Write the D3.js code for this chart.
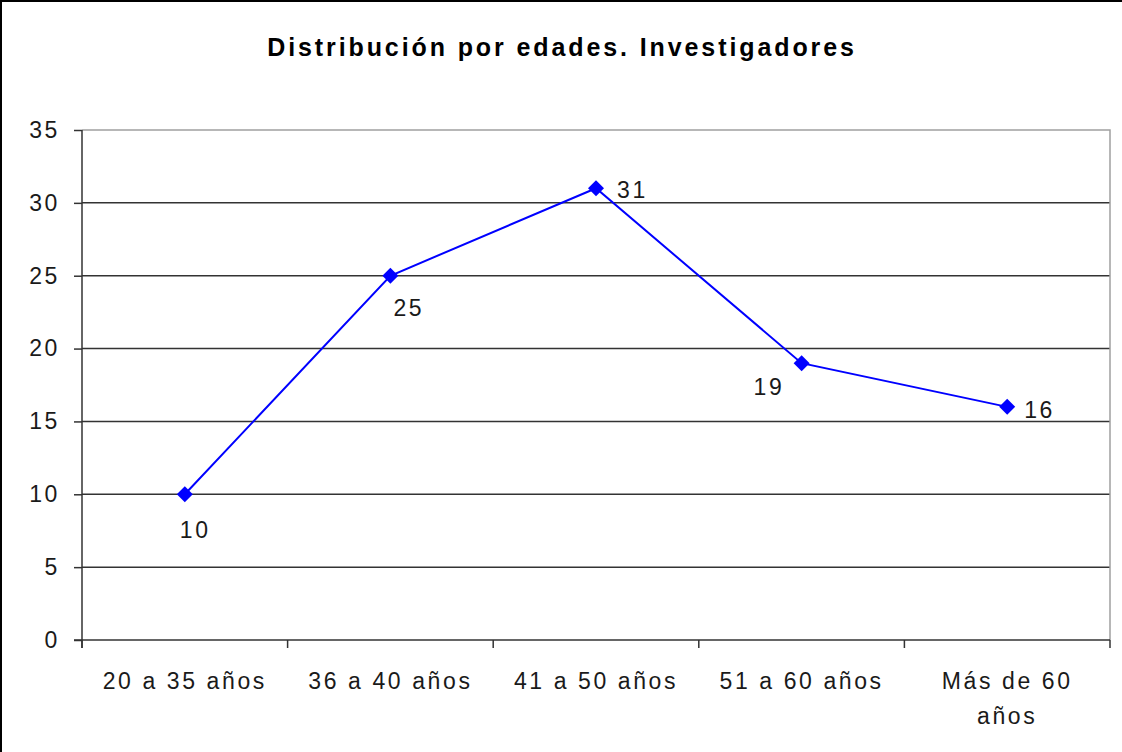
<!DOCTYPE html>
<html>
<head>
<meta charset="utf-8">
<script src="https://cdn.jsdelivr.net/npm/d3@7"></script>
<style>
  body { margin: 0; background: #fff; }
  svg { display: block; }
  text { font-family: "Liberation Sans", Arial, sans-serif; fill: #1a1a1a; }
</style>
</head>
<body>
<div id="chart"></div>
<script>
const categories = ['20 a 35 años', '36 a 40 años', '41 a 50 años', '51 a 60 años', 'Más de 60 años'];
const values = [10, 25, 31, 19, 16];
const yTicks = [0, 5, 10, 15, 20, 25, 30, 35];
const title = 'Distribución por edades. Investigadores';
// where Excel put each data label, relative to its point
const labelOffsets = [[-5, 44], [3, 40], [21, 10], [-48, 32], [17, 11]];

const width = 1122;
const height = 752;
const margin = { top: 130, right: 12, bottom: 112, left: 82 };
const plotW = width - margin.left - margin.right;
const plotH = height - margin.top - margin.bottom;
const fontSize = 23;
const spacing = '2.6px';

const svg = d3.select('#chart')
  .append('svg')
  .attr('width', width)
  .attr('height', height);

// outer frame (right edge is cut off in the picture)
svg.append('path')
  .attr('d', `M1,${height} V1 H${width}`)
  .attr('fill', 'none')
  .attr('stroke', '#000')
  .attr('stroke-width', 2);

svg.append('text')
  .attr('x', 562)
  .attr('y', 56)
  .attr('text-anchor', 'middle')
  .attr('font-size', 25)
  .attr('font-weight', 'bold')
  .style('letter-spacing', '2.9px')
  .style('fill', '#000')
  .text(title);

const x = d3.scaleBand()
  .domain(categories)
  .range([0, plotW]);

const y = d3.scaleLinear()
  .domain([0, 35])
  .range([plotH, 0]);

const g = svg.append('g')
  .attr('transform', `translate(${margin.left},${margin.top})`);

// gridlines
g.selectAll('.grid')
  .data(yTicks.filter(d => d > 0 && d < 35))
  .join('line')
  .attr('x1', 0)
  .attr('x2', plotW)
  .attr('y1', d => y(d))
  .attr('y2', d => y(d))
  .attr('stroke', '#333')
  .attr('stroke-width', 1.5);

// plot area border top/right
g.append('path')
  .attr('d', `M0,${y(35)} H${plotW} V${plotH}`)
  .attr('fill', 'none')
  .attr('stroke', '#a0a0a0')
  .attr('stroke-width', 1.5);

// y axis
const yAxis = g.append('g')
  .call(d3.axisLeft(y).tickValues(yTicks).tickSize(8).tickPadding(14));
yAxis.select('.domain').attr('stroke', '#333').attr('stroke-width', 1.5)
  .attr('d', `M0,0 V${plotH + 8}`);
yAxis.selectAll('.tick line').attr('stroke', '#333').attr('stroke-width', 1.5);
yAxis.selectAll('.tick text')
  .attr('font-size', fontSize)
  .attr('font-family', '"Liberation Sans", Arial, sans-serif')
  .style('letter-spacing', spacing)
  .attr('fill', '#1a1a1a');

// x axis with ticks at category boundaries
const xAxisG = g.append('g')
  .attr('transform', `translate(0,${plotH})`);
xAxisG.append('line')
  .attr('x1', -8).attr('x2', plotW)
  .attr('stroke', '#333').attr('stroke-width', 1.5);
xAxisG.selectAll('.xtick')
  .data(categories.map(c => x(c)).concat([plotW]))
  .join('line')
  .attr('x1', d => d).attr('x2', d => d)
  .attr('y1', 0).attr('y2', 8)
  .attr('stroke', '#333').attr('stroke-width', 1.5);

const xLabels = xAxisG.selectAll('.xlabel')
  .data(categories)
  .join('text')
  .attr('x', d => x(d) + x.bandwidth() / 2)
  .attr('y', 49)
  .attr('text-anchor', 'middle')
  .attr('font-size', fontSize)
  .style('letter-spacing', spacing);

// wrap labels to the band width
xLabels.each(function (d) {
  const t = d3.select(this);
  const words = d.split(' ');
  let line = [];
  let tspan = t.append('tspan').attr('x', t.attr('x')).attr('dy', 0);
  words.forEach(w => {
    line.push(w);
    tspan.text(line.join(' '));
    if (tspan.node().getComputedTextLength() > x.bandwidth() - 20 && line.length > 1) {
      line.pop();
      tspan.text(line.join(' '));
      line = [w];
      tspan = t.append('tspan').attr('x', t.attr('x')).attr('dy', 35).text(w);
    }
  });
});

// line
const line = d3.line()
  .x((d, i) => x(categories[i]) + x.bandwidth() / 2)
  .y(d => y(d));

g.append('path')
  .datum(values)
  .attr('d', line)
  .attr('fill', 'none')
  .attr('stroke', '#0000ff')
  .attr('stroke-width', 2);

// diamond markers
g.selectAll('.marker')
  .data(values)
  .join('path')
  .attr('transform', (d, i) => `translate(${x(categories[i]) + x.bandwidth() / 2},${y(d)})`)
  .attr('d', 'M0,-8 L8,0 L0,8 L-8,0 Z')
  .attr('fill', '#0000ff');

// data labels
g.selectAll('.dlabel')
  .data(values)
  .join('text')
  .attr('x', (d, i) => x(categories[i]) + x.bandwidth() / 2 + labelOffsets[i][0])
  .attr('y', (d, i) => y(d) + labelOffsets[i][1])
  .attr('font-size', fontSize)
  .style('letter-spacing', spacing)
  .text(d => d);
</script>
</body>
</html>
